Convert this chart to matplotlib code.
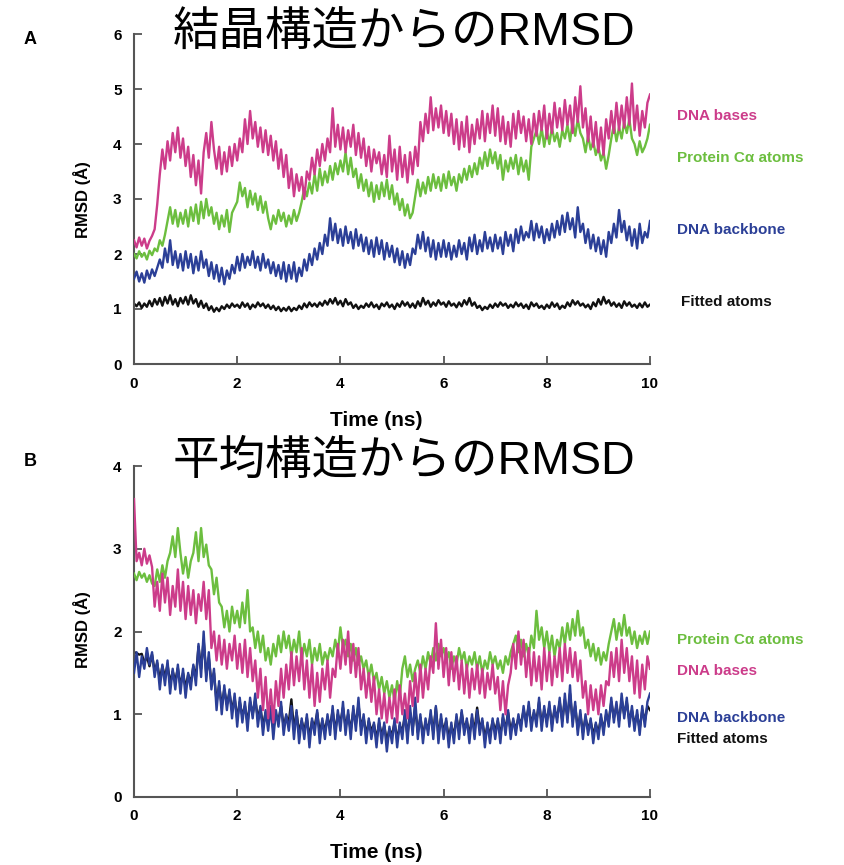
import numpy as np
import matplotlib
matplotlib.use("Agg")
import matplotlib.pyplot as plt

# ---------------- data (0.05 ns sampling) ----------------
time_ns = np.linspace(0, 10, 201)

A_bases = [
    2.25, 2.12, 2.30, 2.15, 2.28, 2.10, 2.24, 2.33, 2.45, 2.90, 3.45, 3.90, 3.55, 4.05, 3.70, 4.20, 3.85, 4.30, 3.75, 4.10,
    3.60, 3.95, 3.40, 3.80, 3.25, 3.70, 3.10, 3.85, 4.20, 3.75, 4.40, 3.90, 3.55, 3.95, 3.45, 3.85, 3.50, 3.95, 3.60, 4.00,
    3.70, 4.10, 3.85, 4.45, 4.00, 4.60, 4.10, 4.40, 3.95, 4.30, 3.85, 4.25, 3.80, 4.15, 3.70, 4.05, 3.55, 3.90, 3.40, 3.80,
    3.20, 3.55, 3.05, 3.45, 3.15, 3.40, 3.00, 3.50, 3.35, 3.75, 3.45, 3.90, 3.60, 4.00, 3.70, 4.10, 3.85, 4.65, 3.95, 4.35,
    3.90, 4.30, 3.85, 4.25, 3.95, 4.35, 3.80, 4.20, 3.75, 4.10, 3.60, 3.95, 3.50, 3.90, 3.65, 3.85, 3.45, 3.80, 3.40, 4.15,
    3.50, 3.90, 3.35, 3.95, 3.40, 3.80, 3.30, 3.85, 3.45, 3.95, 3.60, 4.40, 4.05, 4.55, 4.20, 4.85, 4.25, 4.65, 4.30, 4.70,
    4.20, 4.60, 4.15, 4.55, 4.00, 4.45, 3.90, 4.40, 3.95, 4.50, 3.85, 4.35, 4.00, 4.45, 4.10, 4.60, 4.05, 4.55, 4.20, 4.70,
    4.15, 4.65, 4.05, 4.50, 4.00, 4.40, 3.95, 4.55, 4.10, 4.60, 4.20, 4.50, 4.05, 4.45, 4.00, 4.55, 4.15, 4.60, 4.25, 4.70,
    4.10, 4.55, 4.20, 4.75, 4.30, 4.65, 4.25, 4.80, 4.35, 4.70, 4.20, 4.85, 4.40, 5.05, 4.30, 4.65, 4.05, 4.50, 3.95, 4.40,
    3.85, 4.30, 3.80, 4.45, 4.10, 4.60, 4.20, 4.75, 4.25, 4.70, 4.30, 4.85, 4.35, 5.10, 4.25, 4.70, 4.15, 4.60, 4.30, 4.75,
    4.90]

A_protein = [
    2.00, 1.92, 2.05, 1.95, 2.02, 1.90, 2.06, 1.98, 2.10, 2.05, 2.25, 2.15, 2.35, 2.60, 2.85, 2.55, 2.80, 2.50, 2.75, 2.55,
    2.80, 2.50, 2.85, 2.60, 2.90, 2.55, 2.95, 2.65, 3.00, 2.70, 2.85, 2.55, 2.75, 2.45, 2.70, 2.50, 2.80, 2.40, 2.75, 2.85,
    2.95, 3.30, 3.05, 3.20, 2.85, 3.15, 2.90, 3.10, 2.80, 3.05, 2.75, 2.95, 2.65, 2.45, 2.70, 2.55, 2.80, 2.60, 2.75, 2.50,
    2.70, 2.55, 2.80, 2.60, 2.75, 2.95, 3.20, 3.05, 3.30, 3.10, 3.45, 3.15, 3.55, 3.25, 3.50, 3.30, 3.60, 3.35, 3.65, 3.45,
    3.70, 3.50, 3.85, 3.45, 3.75, 3.40, 3.55, 3.20, 3.45, 3.15, 3.35, 3.05, 3.30, 2.95, 3.25, 3.00, 3.30, 3.05, 3.35, 3.00,
    3.25, 2.90, 3.10, 2.80, 3.00, 2.70, 2.90, 2.65, 2.75, 3.05, 3.35, 3.05, 3.30, 3.10, 3.40, 3.15, 3.45, 3.20, 3.40, 3.15,
    3.45, 3.20, 3.50, 3.25, 3.40, 3.15, 3.45, 3.30, 3.55, 3.35, 3.60, 3.40, 3.65, 3.45, 3.75, 3.55, 3.85, 3.60, 3.90, 3.65,
    3.85, 3.55, 3.80, 3.35, 3.70, 3.50, 3.75, 3.55, 3.80, 3.45, 3.75, 3.50, 3.70, 3.35, 3.95, 4.10, 4.25, 4.00, 4.30, 3.95,
    4.25, 4.00, 4.30, 4.05, 4.20, 3.95, 4.25, 4.10, 4.35, 4.05, 4.40, 4.15, 4.45, 4.20, 4.10, 3.85, 4.15, 3.90, 4.05, 3.80,
    3.95, 3.70, 3.85, 3.55, 3.80, 4.10, 4.35, 4.05, 4.30, 4.10, 4.40, 4.20, 4.45, 4.10, 4.00, 3.80, 4.05, 3.85, 3.95, 4.10,
    4.35]

A_backbone = [
    1.55, 1.68, 1.50, 1.65, 1.48, 1.70, 1.55, 1.72, 1.60, 1.75, 1.90, 1.75, 2.10, 1.85, 2.25, 1.80, 2.05, 1.75, 2.00, 1.70,
    2.05, 1.75, 2.00, 1.65, 1.95, 1.70, 2.05, 1.75, 1.90, 1.60, 1.85, 1.55, 1.80, 1.50, 1.75, 1.45, 1.70, 1.55, 1.80, 1.65,
    1.95, 1.70, 2.00, 1.75, 1.95, 1.80, 2.05, 1.75, 1.95, 1.70, 2.00, 1.75, 1.90, 1.65, 1.85, 1.60, 1.80, 1.55, 1.85, 1.50,
    1.80, 1.55, 1.85, 1.50, 1.75, 1.60, 1.90, 1.70, 2.00, 1.80, 2.10, 1.90, 2.20, 2.00, 2.35, 2.15, 2.65, 2.25, 2.55, 2.20,
    2.45, 2.15, 2.50, 2.20, 2.40, 2.10, 2.45, 2.15, 2.35, 2.05, 2.30, 2.00, 2.25, 1.95, 2.30, 2.00, 2.25, 1.90, 2.20, 1.95,
    2.15, 1.85, 2.10, 1.80, 2.05, 1.75, 2.00, 1.80, 2.10, 2.00, 2.35, 2.10, 2.40, 2.05, 2.30, 1.95, 2.25, 1.90, 2.20, 1.95,
    2.25, 1.95, 2.20, 1.90, 2.15, 1.95, 2.25, 2.00, 2.20, 1.90, 2.30, 2.05, 2.35, 2.00, 2.25, 2.05, 2.40, 2.10, 2.30, 2.05,
    2.35, 2.10, 2.30, 2.00, 2.40, 2.15, 2.35, 2.05, 2.45, 2.20, 2.50, 2.25, 2.40, 2.30, 2.60, 2.25, 2.55, 2.30, 2.50, 2.20,
    2.45, 2.25, 2.55, 2.30, 2.60, 2.35, 2.70, 2.40, 2.75, 2.45, 2.65, 2.30, 2.85, 2.40, 2.55, 2.20, 2.45, 2.10, 2.35, 2.05,
    2.30, 2.00, 2.25, 1.95, 2.40, 2.20, 2.55, 2.30, 2.80, 2.40, 2.60, 2.25, 2.50, 2.15, 2.45, 2.10, 2.55, 2.20, 2.40, 2.30,
    2.60]

A_fitted = [
    1.10, 1.05, 1.12, 1.02, 1.10, 1.04, 1.15, 1.05, 1.18, 1.08, 1.20, 1.06, 1.22, 1.10, 1.25, 1.08, 1.18, 1.05, 1.20, 1.10,
    1.22, 1.08, 1.25, 1.10, 1.18, 1.04, 1.15, 1.02, 1.10, 0.98, 1.05, 0.95, 1.02, 0.96, 1.05, 1.00, 1.08, 1.02, 1.10, 1.04,
    1.08, 1.02, 1.12, 1.04, 1.10, 1.00, 1.08, 1.03, 1.12, 1.05, 1.10, 1.02, 1.08, 1.00, 1.06, 0.98, 1.04, 0.96, 1.02, 0.97,
    1.04, 0.96, 1.02, 0.98, 1.06, 1.00, 1.10, 1.03, 1.12, 1.05, 1.10, 1.04, 1.12, 1.06, 1.15, 1.08, 1.18, 1.10, 1.20, 1.08,
    1.15, 1.05, 1.18, 1.08, 1.12, 1.02, 1.08, 1.00, 1.06, 1.02, 1.10, 1.04, 1.12, 1.03, 1.08, 1.00, 1.10, 1.05, 1.12, 1.03,
    1.08, 1.00, 1.10, 1.04, 1.14, 1.06, 1.12, 1.03, 1.10, 1.02, 1.14, 1.05, 1.20, 1.08, 1.15, 1.04, 1.12, 1.06, 1.16, 1.08,
    1.12, 1.04, 1.14, 1.06, 1.10, 1.03, 1.12, 1.05, 1.16, 1.08, 1.20, 1.06, 1.12, 1.02, 1.06, 0.98, 1.04, 1.00, 1.08, 1.02,
    1.10, 1.04, 1.12, 1.06, 1.10, 1.02, 1.08, 1.03, 1.12, 1.05, 1.10, 1.02, 1.08, 1.00, 1.12, 1.05, 1.10, 1.02, 1.06, 1.00,
    1.08, 1.02, 1.12, 1.04, 1.10, 1.00, 1.06, 1.02, 1.12, 1.05, 1.16, 1.08, 1.14, 1.06, 1.10, 1.03, 1.08, 1.00, 1.12, 1.05,
    1.18, 1.08, 1.22, 1.10, 1.16, 1.06, 1.12, 1.04, 1.10, 1.02, 1.14, 1.06, 1.12, 1.04, 1.08, 1.02, 1.10, 1.03, 1.12, 1.04,
    1.08]

B_bases = [
    3.60, 2.85, 2.95, 2.80, 3.00, 2.82, 2.92, 2.78, 2.30, 2.60, 2.25, 2.70, 2.35, 2.65, 2.20, 2.55, 2.30, 2.75, 2.25, 2.60,
    2.15, 2.55, 2.20, 2.50, 2.10, 2.45, 2.25, 2.60, 2.15, 2.50, 1.80, 2.00, 1.65, 1.95, 1.60, 1.90, 1.55, 1.85, 1.65, 1.95,
    1.55, 1.85, 1.50, 1.90, 1.45, 1.80, 1.40, 1.65, 1.20, 1.55, 1.05, 1.45, 0.95, 1.30, 0.90, 1.40, 1.10, 1.55, 1.20, 1.60,
    1.30, 1.75, 1.35, 1.70, 1.40, 1.80, 1.30, 1.65, 1.20, 1.60, 1.10, 1.50, 1.15, 1.55, 1.30, 1.65, 1.20, 1.55, 1.45, 1.85,
    1.55, 1.90, 1.60, 2.00, 1.50, 1.85, 1.45, 1.80, 1.30, 1.55, 1.20, 1.50, 1.15, 1.45, 1.00, 1.30, 0.95, 1.25, 0.90, 1.20,
    0.95, 1.30, 0.90, 1.35, 1.00, 1.25, 0.95, 1.40, 1.10, 1.50, 1.15, 1.60, 1.20, 1.55, 1.30, 1.70, 1.50, 2.10, 1.55, 1.90,
    1.45, 1.80, 1.35, 1.75, 1.40, 1.70, 1.30, 1.65, 1.25, 1.60, 1.20, 1.55, 1.30, 1.60, 1.25, 1.55, 1.20, 1.50, 1.30, 1.60,
    1.25, 1.45, 1.05, 1.40, 1.00, 1.35, 1.50, 1.85, 1.55, 2.00, 1.60, 1.90, 1.45, 1.80, 1.35, 1.75, 1.40, 1.70, 1.30, 1.80,
    1.40, 1.75, 1.35, 1.70, 1.45, 1.80, 1.40, 1.85, 1.50, 1.80, 1.45, 1.75, 1.40, 1.65, 1.20, 1.40, 1.00, 1.35, 1.05, 1.30,
    1.00, 1.35, 1.10, 1.40, 1.35, 1.75, 1.45, 1.80, 1.40, 1.90, 1.50, 1.80, 1.40, 1.70, 1.25, 1.65, 1.20, 1.60, 1.30, 1.70,
    1.55]

B_protein = [
    2.70, 2.62, 2.72, 2.65, 2.70, 2.60, 2.68, 2.58, 2.55, 2.75, 2.60, 2.80, 2.65, 2.85, 2.95, 3.15, 2.90, 3.25, 2.95, 2.70,
    2.90, 2.65, 2.85, 2.95, 3.20, 2.85, 3.25, 2.90, 3.05, 2.80, 2.75, 2.45, 2.65, 2.35, 2.30, 2.05, 2.25, 2.00, 2.30, 2.10,
    2.25, 2.05, 2.35, 2.10, 2.50, 2.00, 2.05, 1.80, 2.00, 1.75, 1.95, 1.65, 1.80, 1.60, 1.85, 1.70, 1.95, 1.75, 2.00, 1.80,
    1.95, 1.70, 1.90, 1.75, 2.00, 1.65, 1.85, 1.70, 1.90, 1.60, 1.80, 1.65, 1.85, 1.60, 1.75, 1.65, 1.80, 1.70, 1.90, 1.75,
    2.05, 1.80, 1.90, 1.70, 1.85, 1.65, 1.80, 1.60, 1.70, 1.55, 1.65, 1.45, 1.60, 1.40, 1.50, 1.30, 1.45, 1.25, 1.40, 1.20,
    1.35, 1.15, 1.40, 1.20, 1.55, 1.70, 1.45, 1.60, 1.40, 1.55, 1.65, 1.50, 1.70, 1.55, 1.75, 1.60, 1.80, 1.65, 1.85, 1.70,
    1.80, 1.65, 1.75, 1.55, 1.70, 1.60, 1.80, 1.65, 1.75, 1.55, 1.70, 1.60, 1.75, 1.55, 1.70, 1.50, 1.65, 1.55, 1.75, 1.60,
    1.70, 1.55, 1.65, 1.50, 1.70, 1.60, 1.75, 1.85, 1.95, 1.75, 1.90, 1.70, 1.85, 1.70, 1.95, 1.80, 2.25, 1.90, 2.05, 1.80,
    2.00, 1.75, 1.95, 1.70, 1.90, 1.80, 2.05, 1.85, 2.10, 1.90, 2.15, 1.95, 2.25, 1.95, 2.05, 1.80, 1.90, 1.70, 1.85, 1.65,
    1.80, 1.60, 1.75, 1.65, 1.85, 2.00, 2.15, 1.90, 2.10, 1.95, 2.20, 1.95, 2.05, 1.85, 2.00, 1.80, 1.95, 1.85, 2.00, 1.85,
    2.00]

B_backbone = [
    1.50, 1.75, 1.45, 1.70, 1.55, 1.80, 1.60, 1.75, 1.45, 1.65, 1.30, 1.60, 1.35, 1.65, 1.25, 1.55, 1.30, 1.60, 1.25, 1.55,
    1.20, 1.50, 1.30, 1.60, 1.35, 1.85, 1.45, 2.00, 1.40, 1.75, 1.30, 1.55, 1.05, 1.40, 1.00, 1.35, 1.05, 1.30, 0.95, 1.25,
    0.85, 1.20, 0.90, 1.15, 0.80, 1.20, 0.95, 1.25, 0.85, 1.10, 0.75, 1.05, 0.80, 1.10, 0.70, 1.05, 0.85, 1.15, 0.75, 1.00,
    0.80, 1.10, 0.70, 1.05, 0.65, 0.95, 0.70, 1.00, 0.60, 0.95, 0.75, 1.05, 0.65, 0.95, 0.70, 1.00, 0.75, 1.10, 0.70, 1.05,
    0.80, 1.15, 0.75, 1.05, 0.70, 1.10, 0.80, 1.20, 0.75, 1.00, 0.65, 0.95, 0.70, 0.90, 0.60, 0.95, 0.65, 0.90, 0.55, 0.85,
    0.65, 0.95, 0.60, 0.90, 0.70, 1.05, 0.65, 1.10, 0.75, 1.20, 0.70, 1.00, 0.65, 0.95, 0.75, 1.05, 0.70, 1.10, 0.65, 1.00,
    0.70, 0.95, 0.60, 0.90, 0.65, 1.00, 0.70, 1.05, 0.75, 0.95, 0.65, 1.00, 0.70, 1.05, 0.75, 0.95, 0.60, 0.90, 0.65, 0.95,
    0.70, 0.95, 0.65, 1.00, 0.75, 1.05, 0.70, 0.95, 0.75, 1.00, 0.80, 1.10, 0.85, 1.15, 0.80, 1.05, 0.85, 1.20, 0.80, 1.10,
    0.85, 1.15, 0.80, 1.10, 0.90, 1.20, 0.85, 1.25, 0.90, 1.35, 0.85, 1.15, 0.75, 1.05, 0.70, 1.00, 0.75, 0.95, 0.65, 0.90,
    0.70, 1.00, 0.75, 1.05, 0.85, 1.20, 0.90, 1.15, 0.85, 1.25, 0.95, 1.20, 0.85, 1.10, 0.80, 1.05, 0.75, 1.10, 0.85, 1.15,
    1.25]

B_fitted = [
    1.75, 1.74, 1.72, 1.73, 1.62, 1.70, 1.58, 1.72, 1.52, 1.62, 1.42, 1.58, 1.45, 1.60, 1.38, 1.52, 1.40, 1.56, 1.35, 1.50,
    1.32, 1.48, 1.38, 1.58, 1.45, 1.82, 1.55, 1.90, 1.48, 1.68, 1.38, 1.50, 1.15, 1.35, 1.10, 1.30, 1.12, 1.26, 1.05, 1.20,
    0.95, 1.15, 0.98, 1.10, 0.90, 1.15, 1.00, 1.18, 0.95, 1.08, 0.85, 1.02, 0.90, 1.05, 0.82, 1.00, 0.92, 1.10, 0.85, 0.98,
    0.90, 1.18, 0.82, 1.02, 0.78, 0.92, 0.80, 0.96, 0.72, 0.92, 0.85, 1.02, 0.78, 0.92, 0.80, 0.96, 0.85, 1.05, 0.80, 1.00,
    0.90, 1.08, 0.85, 1.00, 0.80, 1.05, 0.88, 1.12, 0.85, 0.96, 0.75, 0.92, 0.80, 0.88, 0.70, 0.90, 0.75, 0.86, 0.68, 0.82,
    0.75, 0.90, 0.70, 0.86, 0.80, 0.98, 0.75, 1.02, 0.82, 1.08, 0.78, 0.96, 0.75, 0.90, 0.82, 1.00, 0.78, 1.08, 0.75, 0.95,
    0.80, 0.92, 0.72, 0.86, 0.75, 0.96, 0.80, 1.02, 0.82, 0.92, 0.75, 0.96, 0.80, 1.08, 0.82, 0.92, 0.72, 0.86, 0.75, 0.92,
    0.80, 0.92, 0.75, 0.96, 0.82, 1.02, 0.80, 0.92, 0.82, 0.96, 0.88, 1.05, 0.92, 1.10, 0.88, 1.02, 0.92, 1.15, 0.88, 1.05,
    0.92, 1.10, 0.88, 1.05, 0.96, 1.15, 0.92, 1.18, 0.96, 1.25, 0.92, 1.10, 0.82, 1.00, 0.78, 0.96, 0.82, 0.92, 0.75, 0.88,
    0.78, 0.96, 0.82, 1.00, 0.92, 1.15, 0.96, 1.10, 0.92, 1.18, 1.00, 1.15, 0.92, 1.05, 0.88, 1.00, 0.82, 1.05, 0.92, 1.10,
    1.05]

x_ticks = [0, 2, 4, 6, 8, 10]
A_yticks = [0, 1, 2, 3, 4, 5, 6]
B_yticks = [0, 1, 2, 3, 4]
title_A = "結晶構造からのRMSD"
title_B = "平均構造からのRMSD"
labels_A = ["DNA bases", "Protein Cα atoms", "DNA backbone", "Fitted atoms"]
labels_B = ["Protein Cα atoms", "DNA bases", "DNA backbone", "Fitted atoms"]

# ---------------- styling ----------------
C_PINK = "#CC3C8A"
C_GREEN = "#6CBE3F"
C_BLUE = "#2B3F97"
C_BLACK = "#111111"
SPINE = "#555555"
LAT = ["Liberation Sans", "DejaVu Sans"]
TITLE_FONT = ["Liberation Sans", "Noto Sans CJK JP", "DejaVu Sans"]

W, H = 844, 865
fig = plt.figure(figsize=(W / 100, H / 100), dpi=100)


def make_axes(top_px, bottom_px):
    left, right = 134, 650
    return fig.add_axes([left / W, 1 - bottom_px / H, (right - left) / W, (bottom_px - top_px) / H])


def style(ax, ymax, yticks):
    ax.set_xlim(0, 10)
    ax.set_ylim(0, ymax)
    ax.set_xticks(x_ticks)
    ax.set_yticks(yticks)
    for s in ["top", "right"]:
        ax.spines[s].set_visible(False)
    for s in ["left", "bottom"]:
        ax.spines[s].set_color(SPINE)
        ax.spines[s].set_linewidth(1.5)
    ax.tick_params(direction="in", length=6, width=1.3, color=SPINE, pad=9)
    for lab in ax.get_xticklabels() + ax.get_yticklabels():
        lab.set_fontfamily(LAT)
        lab.set_fontweight("bold")
        lab.set_fontsize(11)


lw = 1.7

# Panel A
axA = make_axes(34, 364)
axA.plot(time_ns, A_fitted, color=C_BLACK, lw=lw, zorder=2)
axA.plot(time_ns, A_backbone, color=C_BLUE, lw=lw, zorder=3)
axA.plot(time_ns, A_protein, color=C_GREEN, lw=lw, zorder=4)
axA.plot(time_ns, A_bases, color=C_PINK, lw=lw, zorder=5)
style(axA, 6, A_yticks)

# Panel B
axB = make_axes(466, 797)
axB.plot(time_ns, B_fitted, color=C_BLACK, lw=lw, zorder=2)
axB.plot(time_ns, B_backbone, color=C_BLUE, lw=lw, zorder=3)
axB.plot(time_ns, B_protein, color=C_GREEN, lw=lw, zorder=4)
axB.plot(time_ns, B_bases, color=C_PINK, lw=lw, zorder=5)
style(axB, 4, B_yticks)

# axis labels
for yc, yt in [(200, 420), (630, 852)]:
    fig.text(82 / W, 1 - yc / H, "RMSD (Å)", rotation=90, ha="center", va="center",
             fontsize=12, fontweight="bold", family=LAT)
    fig.text(376 / W, 1 - yt / H, "Time (ns)", ha="center", va="center",
             fontsize=15, fontweight="bold", family=LAT)

# titles
fig.text(404 / W, 1 - 34 / H, title_A, ha="center", va="center", fontsize=33.5, family=TITLE_FONT)
fig.text(404 / W, 1 - 462 / H, title_B, ha="center", va="center", fontsize=33.5, family=TITLE_FONT)

# panel letters
fig.text(30 / W, 1 - 40 / H, "A", ha="center", va="center", fontsize=13, fontweight="bold", family=LAT)
fig.text(30 / W, 1 - 462 / H, "B", ha="center", va="center", fontsize=13, fontweight="bold", family=LAT)

# series labels
colsA = [C_PINK, C_GREEN, C_BLUE, C_BLACK]
ysA = [116, 158, 230, 302]
for lab, c, y in zip(labels_A, colsA, ysA):
    fig.text((677 if c != C_BLACK else 681) / W, 1 - y / H, lab, color=c, ha="left", va="center",
             fontsize=11, fontweight="bold", family=LAT)
colsB = [C_GREEN, C_PINK, C_BLUE, C_BLACK]
ysB = [640, 671, 718, 739]
for lab, c, y in zip(labels_B, colsB, ysB):
    fig.text(677 / W, 1 - y / H, lab, color=c, ha="left", va="center",
             fontsize=11, fontweight="bold", family=LAT)

fig.savefig("out.png", dpi=100)
